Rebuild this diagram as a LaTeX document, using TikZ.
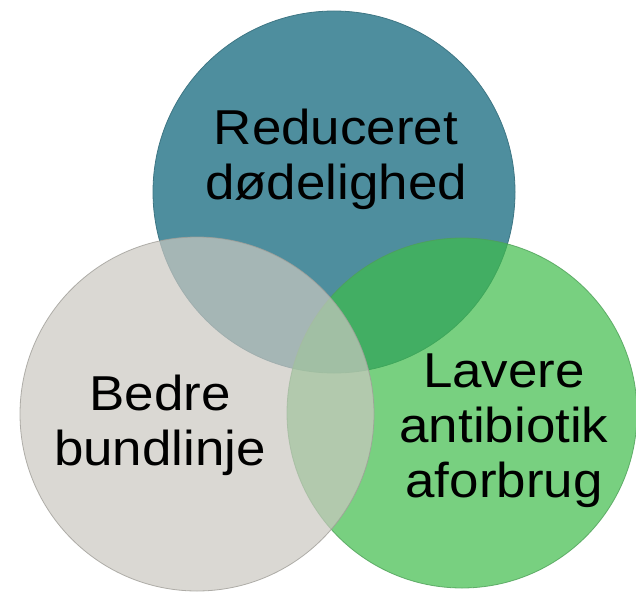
\documentclass[tikz,border=0pt]{standalone}
\usepackage{fontspec}
\setmainfont[FakeStretch=1.08]{Liberation Sans}
\usetikzlibrary{positioning}

\definecolor{tealtop}{RGB}{78,142,158}
\definecolor{tealrim}{RGB}{62,118,132}
\definecolor{greenright}{RGB}{62,188,74}
\definecolor{greenrim}{RGB}{78,160,88}
\definecolor{grayleft}{RGB}{202,199,192}
\definecolor{grayrim}{RGB}{160,158,152}

\begin{document}
\begin{tikzpicture}[x=1pt, y=-1pt,
  disc/.style={circle, inner sep=0pt, outer sep=0pt, line width=0.8pt},
  word/.style={align=center, inner sep=0pt, font=\fontsize{49}{55}\selectfont}]
\useasboundingbox (0,0) rectangle (636,594);
% three overlapping circles
\node[disc, minimum size=362pt, fill=tealtop, draw=tealrim] (top) at (334,192) {};
\node[disc, minimum size=350pt, fill=greenright, fill opacity=0.7, draw=greenrim, draw opacity=0.8] (right) at (462,413) {};
\node[disc, minimum size=354pt, fill=grayleft, fill opacity=0.7, draw=grayrim, draw opacity=0.8] (left) at (197,414) {};
% labels
\node[word] (mortality) at (336,159) {Reduceret\\dødelighed};
\node[word] (bottomline) at (160,425) {Bedre\\bundlinje};
\node[word] (antibiotics) at (504,431) {Lavere\\antibiotik\\aforbrug};
\end{tikzpicture}
\end{document}
